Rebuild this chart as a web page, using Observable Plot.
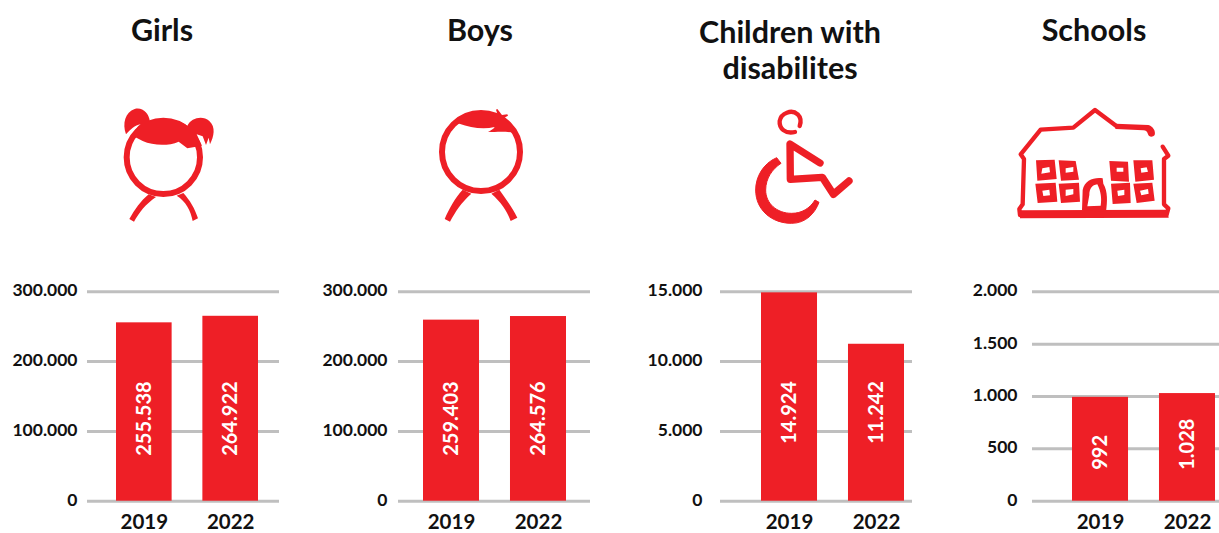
<!DOCTYPE html>
<html>
<head>
<meta charset="utf-8">
<script src="https://cdn.jsdelivr.net/npm/d3@7"></script>
<script src="https://cdn.jsdelivr.net/npm/@observablehq/plot@0.6"></script>
<style>
  html, body { margin: 0; padding: 0; background: #fff; }
  #page { position: relative; width: 1219px; height: 533px; overflow: hidden; font-family: Lato, sans-serif; }
  #page > svg, #page > .panel, #page > .title { position: absolute; }
  .panel svg { display: block; overflow: visible; }
  .title { font-weight: 700; font-size: 30.5px; line-height: 36px; color: #111; text-align: center; transform: translateX(-50%); white-space: nowrap; }
</style>
</head>
<body>
<div id="page">
  <!-- Girl -->
  <svg class="icon" style="left:100px;top:95px" width="130" height="135" viewBox="0 0 390 405">
    <circle cx="190" cy="187" r="110" fill="none" stroke="#ee1f26" stroke-width="18"/>
    <path d="M146 298C122 318 104 344 88 372L102 380C118 352 136 328 168 306ZM230 302C258 320 272 346 278 378L294 370C284 340 270 316 250 294Z" fill="#ee1f26"/>
    <path d="M78 118C66 85 76 52 104 42C128 36 146 54 150 80C186 66 232 72 262 92C274 68 308 60 328 78C348 96 342 124 330 148L326 128L318 150L308 124L290 118L306 152L262 160L236 140C204 154 160 152 128 138L98 122C104 106 114 92 122 88C104 90 92 104 78 118Z" fill="#ee1f26"/>
  </svg>
  <!-- Boy -->
  <svg class="icon" style="left:420px;top:95px" width="130" height="135" viewBox="0 0 390 405">
    <circle cx="183" cy="171" r="117" fill="none" stroke="#ee1f26" stroke-width="18"/>
    <path d="M128 284C104 310 88 340 74 372L90 380C106 350 124 322 154 296ZM214 296C244 322 262 350 272 378L292 368C276 336 256 310 238 284Z" fill="#ee1f26"/>
    <path d="M108 86C130 60 170 46 232 56L228 44L232 42L246 60L262 58L264 62L250 70C266 84 278 98 284 114C258 108 230 112 204 110C214 106 220 102 224 96C190 104 150 98 118 86Z" fill="#ee1f26"/>
  </svg>
  <!-- Wheelchair -->
  <svg class="icon" style="left:735px;top:95px" width="130" height="135" viewBox="0 0 390 405">
    <path d="M180 111C150 118 132 100 134 78C138 54 170 42 188 58C198 68 198 82 194 93" fill="none" stroke="#ee1f26" stroke-width="13" stroke-linecap="round"/>
    <path d="M255 204L165 147L166 253L262 247L295 298L342 258" fill="none" stroke="#ee1f26" stroke-width="22" stroke-linecap="round" stroke-linejoin="round"/>
    <path d="M125 188C85 205 62 245 62 285C62 345 110 385 170 385C212 385 240 355 252 322L240 315C225 340 200 355 170 355C125 355 92 325 92 285C92 250 112 222 138 205Z" fill="#ee1f26" stroke="#ee1f26" stroke-width="3" stroke-linejoin="round"/>
  </svg>
  <!-- School -->
  <svg class="icon" style="left:1010px;top:95px" width="170" height="135" viewBox="0 0 510 405">
    <path d="M320 94L255 45L190 98L92 104L32 178L42 192L38 328L28 342L30 360L470 358L475 340L462 328L462 192L475 182L458 155" fill="none" stroke="#ee1f26" stroke-width="13" stroke-linejoin="round" stroke-linecap="round"/>
    <path d="M30 346L472 344L476 368L30 370Z" fill="#ee1f26"/>
    <path d="M318 86L415 90C428 93 438 108 434 120C428 128 416 126 414 118C412 110 408 106 400 106L316 102Z" fill="#ee1f26"/>
    <path fill="#ee1f26" fill-rule="evenodd" d="M78 196L134 194L140 252L82 257ZM97 220L94 236L120 232L118 216Z
      M146 196L197 198L207 254L153 257ZM167 220L167 233L190 230L190 216Z
      M298 198L354 200L357 260L303 257ZM320 218L320 230L340 230L340 218Z
      M370 196L427 196L432 254L376 260ZM392 220L394 233L414 230L410 217Z
      M76 266L137 263L142 320L83 324ZM97 287L100 303L120 301L118 284Z
      M146 266L207 263L210 320L153 324ZM167 284L167 303L190 298L190 282Z
      M303 266L360 263L362 324L308 327ZM322 287L324 303L343 300L343 284Z
      M370 266L427 263L434 317L380 324ZM390 287L394 301L416 296L414 282Z
      M216 346L218 285C224 256 252 246 278 250L280 266C294 290 292 320 288 350ZM232 334L272 332C276 310 272 288 262 268C246 270 238 282 238 300Z"/>
  </svg>
</div>
<script>
// Enrolment figures per group, two survey years
const years = ["2019", "2022"];
const girls = [255538, 264922];
const boys = [259403, 264576];
const disabilities = [14924, 11242];
const schools = [992, 1028];

const titles = ["Girls", "Boys", "Children with\ndisabilites", "Schools"];
const series = [girls, boys, disabilities, schools];
const tickSets = [
  [0, 100000, 200000, 300000],
  [0, 100000, 200000, 300000],
  [0, 5000, 10000, 15000],
  [0, 500, 1000, 1500, 2000]
];
const tickLabels = [
  ["0", "100.000", "200.000", "300.000"],
  ["0", "100.000", "200.000", "300.000"],
  ["0", "5.000", "10.000", "15.000"],
  ["0", "500", "1.000", "1.500", "2.000"]
];

// Layout of the four small multiples, in page pixels
const RED = "#ee1f26";
const frames = [
  {left: 0, gridL: 87, gridR: 279, barL: 116, barR: 258, tickPad: 10, titleX: 162, titleY: 10.5, labelBase: 0.217},
  {left: 310, gridL: 398, gridR: 590, barL: 423, barR: 566, tickPad: 11, titleX: 480, titleY: 10.5, labelBase: 0.217},
  {left: 630, gridL: 720, gridR: 912, barL: 761, barR: 904, tickPad: 18, titleX: 790, titleY: 12.5, labelBase: 0.274},
  {left: 919, gridL: 1032, gridR: 1219, barL: 1072, barR: 1215, tickPad: 15, titleX: 1094, titleY: 10.5, labelBase: 0.15}
];

const format = (v) => String(v).replace(/\B(?=(\d{3})+$)/g, ".");
const page = document.getElementById("page");

series.forEach((values, i) => {
  const f = frames[i];
  const ticks = tickSets[i];
  const top = ticks[ticks.length - 1];
  const rows = years.map((year, k) => ({year, value: values[k]}));

  const chart = Plot.plot({
    width: 300,
    height: 253,
    marginTop: 11.3,
    marginBottom: 32.3,
    marginLeft: f.gridL - f.left,
    marginRight: 300 - (f.gridR - f.left),
    style: {fontFamily: "Lato, sans-serif", fontWeight: 700, fontSize: "17px", color: "#111", background: "transparent"},
    x: {domain: years, range: [f.barL - f.left, f.barR - f.left], paddingInner: 0.356, paddingOuter: 0, round: false, axis: null},
    y: {domain: [0, top], axis: null},
    marks: [
      Plot.ruleY(ticks, {stroke: "#bfbfbf", strokeWidth: 3}),
      Plot.barY(rows, {x: "year", y: "value", fill: RED}),
      Plot.text(rows, {
        x: "year",
        y: () => top * f.labelBase,
        text: (d) => format(d.value),
        rotate: -90,
        textAnchor: "start",
        fill: "#fff",
        fontSize: 20,
        fontWeight: 700
      }),
      Plot.axisY(ticks, {
        tickSize: 0,
        tickPadding: f.tickPad,
        tickFormat: (d) => tickLabels[i][ticks.indexOf(d)],
        label: null,
        fill: "#111",
        fontSize: 17.5,
        fontWeight: 700,
        dy: -1
      }),
      Plot.axisX(years, {
        tickSize: 0,
        tickPadding: 13,
        label: null,
        fill: "#111",
        fontSize: 20.5,
        fontWeight: 700
      })
    ]
  });
  const holder = document.createElement("div");
  holder.className = "panel";
  holder.style.left = f.left + "px";
  holder.style.top = "280px";
  holder.appendChild(chart);
  page.appendChild(holder);

  const title = document.createElement("div");
  title.className = "title";
  title.style.left = f.titleX + "px";
  title.style.top = f.titleY + "px";
  title.innerHTML = titles[i].replace("\n", "<br>");
  page.appendChild(title);
});
</script>
</body>
</html>
